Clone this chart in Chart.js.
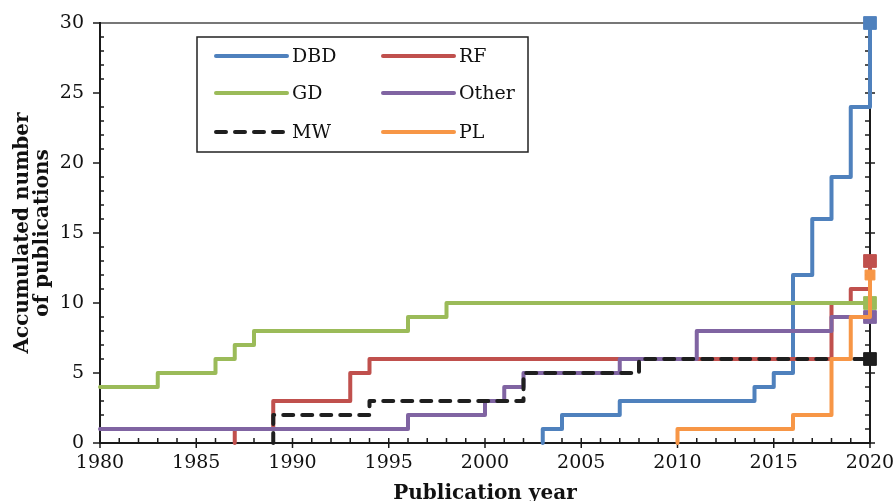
<!DOCTYPE html>
<html>
<head>
<meta charset="utf-8">
<title>Accumulated number of publications</title>
<script src="https://cdn.jsdelivr.net/npm/chart.js"></script>
<style>
	html, body { margin: 0; padding: 0; background: #fff; }
	canvas { display: block; }
</style>
</head>
<body>
<canvas id="graficoPublicacoes" width="894" height="501"></canvas>
<script>
// anos e totais acumulados de cada tipo de descarga
var dbdYears = [2003, 2003, 2004, 2007, 2014, 2015, 2016, 2017, 2018, 2019, 2020];
var dbdValues = [0, 1, 2, 3, 4, 5, 12, 16, 19, 24, 30];

var rfYears = [1987, 1987, 1989, 1993, 1994, 2018, 2019, 2020];
var rfValues = [0, 1, 3, 5, 6, 10, 11, 13];

var gdYears = [1980, 1983, 1986, 1987, 1988, 1996, 1998, 2020];
var gdValues = [4, 5, 6, 7, 8, 9, 10, 10];

var otherYears = [1980, 1996, 2000, 2001, 2002, 2007, 2011, 2018, 2020];
var otherValues = [1, 2, 3, 4, 5, 6, 8, 9, 9];

var mwYears = [1989, 1989, 1994, 2002, 2008, 2020];
var mwValues = [0, 2, 3, 5, 6, 6];

var plYears = [2010, 2010, 2016, 2018, 2019, 2020];
var plValues = [0, 1, 2, 6, 9, 12];

var xTickLabels = [1980, 1985, 1990, 1995, 2000, 2005, 2010, 2015, 2020];
var yTickLabels = [0, 5, 10, 15, 20, 25, 30];

var seriesLabels = ['DBD', 'RF', 'GD', 'Other', 'MW', 'PL'];

var FONTE = 'DejaVu Serif';

function pontos(anos, valores) {
	return anos.map(function(ano, i) {
		return { x: ano, y: valores[i] };
	});
}

// marcador quadrado so no ultimo ponto
function raioFinal(n, raio) {
	return function(ctx) {
		return ctx.dataIndex === n - 1 ? raio : 0;
	};
}

function serie(label, anos, valores, cor, ordem, extra) {
	var ds = {
		label: label,
		data: pontos(anos, valores),
		borderColor: cor,
		backgroundColor: cor,
		borderWidth: 4,
		borderCapStyle: 'round',
		borderJoinStyle: 'round',
		stepped: true,
		fill: false,
		pointStyle: 'rect',
		pointRadius: raioFinal(anos.length, 9),
		pointHoverRadius: raioFinal(anos.length, 9),
		pointBorderWidth: 1,
		pointBackgroundColor: cor,
		pointBorderColor: cor,
		clip: false,
		order: ordem
	};
	for (var k in extra) ds[k] = extra[k];
	return ds;
}

function linha(ctx, x1, y1, x2, y2) {
	ctx.beginPath();
	ctx.moveTo(x1, y1);
	ctx.lineTo(x2, y2);
	ctx.stroke();
}

// moldura e marcas dos eixos (principais a cada 5, secundarias a cada 1)
var eixosPlugin = {
	id: 'eixos',
	beforeDatasetsDraw: function(chart) {
		var ctx = chart.ctx;
		var a = chart.chartArea;
		var sx = chart.scales.x;
		var sy = chart.scales.y;
		ctx.save();
		ctx.lineCap = 'butt';

		ctx.strokeStyle = '#4a4a4a';
		ctx.lineWidth = 1.5;
		linha(ctx, a.left, a.top, a.right, a.top);

		ctx.strokeStyle = '#1a1a1a';
		ctx.lineWidth = 2;
		linha(ctx, a.left, a.top - 1, a.left, a.bottom + 1);
		linha(ctx, a.left - 1, a.bottom, a.right + 1, a.bottom);
		linha(ctx, a.right, a.top, a.right, a.bottom + 1);

		ctx.lineWidth = 1.5;
		for (var ano = sx.min; ano <= sx.max; ano++) {
			var px = sx.getPixelForValue(ano);
			if (ano % 5 === 0) {
				linha(ctx, px, a.bottom - 5, px, a.bottom + 5);
			} else {
				linha(ctx, px, a.bottom - 5, px, a.bottom);
			}
		}
		for (var v = sy.min; v <= sy.max; v++) {
			var py = sy.getPixelForValue(v);
			if (v % 5 === 0) {
				linha(ctx, a.left - 7, py, a.left, py);
				linha(ctx, a.right - 5, py, a.right + 5, py);
			} else {
				linha(ctx, a.left, py, a.left + 4, py);
				linha(ctx, a.right - 5, py, a.right, py);
			}
		}
		ctx.restore();
	}
};

// legenda em caixa, duas colunas
var legendaPlugin = {
	id: 'legendaCaixa',
	afterDraw: function(chart) {
		var ctx = chart.ctx;
		var a = chart.chartArea;
		var bx = a.left + 97, by = a.top + 14, bw = 331, bh = 115;
		var colunas = [bx + 19, bx + 186];
		var linhas = [by + 19, by + 56, by + 95];
		var ordemLegenda = [0, 1, 2, 3, 4, 5];

		ctx.save();
		ctx.fillStyle = '#fff';
		ctx.fillRect(bx, by, bw, bh);
		ctx.strokeStyle = '#222';
		ctx.lineWidth = 1.5;
		ctx.strokeRect(bx, by, bw, bh);

		ctx.font = '19px "' + FONTE + '"';
		ctx.textBaseline = 'middle';
		ctx.textAlign = 'left';

		ordemLegenda.forEach(function(i, n) {
			var ds = chart.data.datasets[i];
			var x = colunas[n % 2];
			var y = linhas[Math.floor(n / 2)];
			ctx.strokeStyle = ds.borderColor;
			ctx.lineWidth = 4;
			ctx.lineCap = 'round';
			ctx.setLineDash(ds.borderDash || []);
			linha(ctx, x, y, x + 71, y);
			ctx.setLineDash([]);
			ctx.fillStyle = '#111';
			ctx.fillText(ds.label, x + 76, y + 1);
		});
		ctx.restore();
	}
};

var ctx = document.getElementById('graficoPublicacoes').getContext('2d');

var graficoPublicacoes = new Chart(ctx, {
	type: 'line',
	data: {
		datasets: [
			serie(seriesLabels[0], dbdYears, dbdValues, '#4F81BD', 6),
			serie(seriesLabels[1], rfYears, rfValues, '#C0504D', 5),
			serie(seriesLabels[2], gdYears, gdValues, '#9BBB59', 4),
			serie(seriesLabels[3], otherYears, otherValues, '#8064A2', 3),
			serie(seriesLabels[4], mwYears, mwValues, '#1f1f1f', 2, { borderDash: [10, 9] }),
			serie(seriesLabels[5], plYears, plValues, '#F79646', 1, {
				pointRadius: raioFinal(plYears.length, 7),
				pointHoverRadius: raioFinal(plYears.length, 7)
			})
		]
	},
	options: {
		responsive: false,
		animation: false,
		events: [],
		layout: { padding: { top: 23, right: 24, bottom: 0, left: 0 } },
		plugins: {
			legend: { display: false },
			tooltip: { enabled: false }
		},
		scales: {
			x: {
				type: 'linear',
				min: 1980,
				max: 2020,
				afterBuildTicks: function(scale) {
					scale.ticks = xTickLabels.map(function(v) { return { value: v }; });
				},
				afterFit: function(scale) {
					scale.height = 58;
					scale.paddingLeft = 0;
					scale.paddingRight = 0;
				},
				grid: { display: false, drawTicks: false },
				border: { display: false },
				ticks: {
					padding: 9,
					maxRotation: 0,
					autoSkip: false,
					color: '#111',
					font: { family: FONTE, size: 19 },
					callback: function(v) { return String(v); }
				},
				title: {
					display: true,
					text: 'Publication year',
					color: '#111',
					font: { family: FONTE, size: 20, weight: 'bold', lineHeight: 1.2 },
					padding: { top: 0, bottom: -5 }
				}
			},
			y: {
				type: 'linear',
				min: 0,
				max: 30,
				afterBuildTicks: function(scale) {
					scale.ticks = yTickLabels.map(function(v) { return { value: v }; });
				},
				afterFit: function(scale) {
					scale.width = 100;
					scale.paddingTop = 0;
					scale.paddingBottom = 0;
				},
				grid: { display: false, drawTicks: false },
				border: { display: false },
				ticks: {
					padding: 16,
					color: '#111',
					font: { family: FONTE, size: 19 }
				},
				title: {
					display: true,
					text: ['Accumulated number', 'of publications'],
					color: '#111',
					font: { family: FONTE, size: 20, weight: 'bold', lineHeight: 1.0 },
					padding: { top: 13, bottom: 0 }
				}
			}
		}
	},
	plugins: [eixosPlugin, legendaPlugin]
});
</script>
</body>
</html>
